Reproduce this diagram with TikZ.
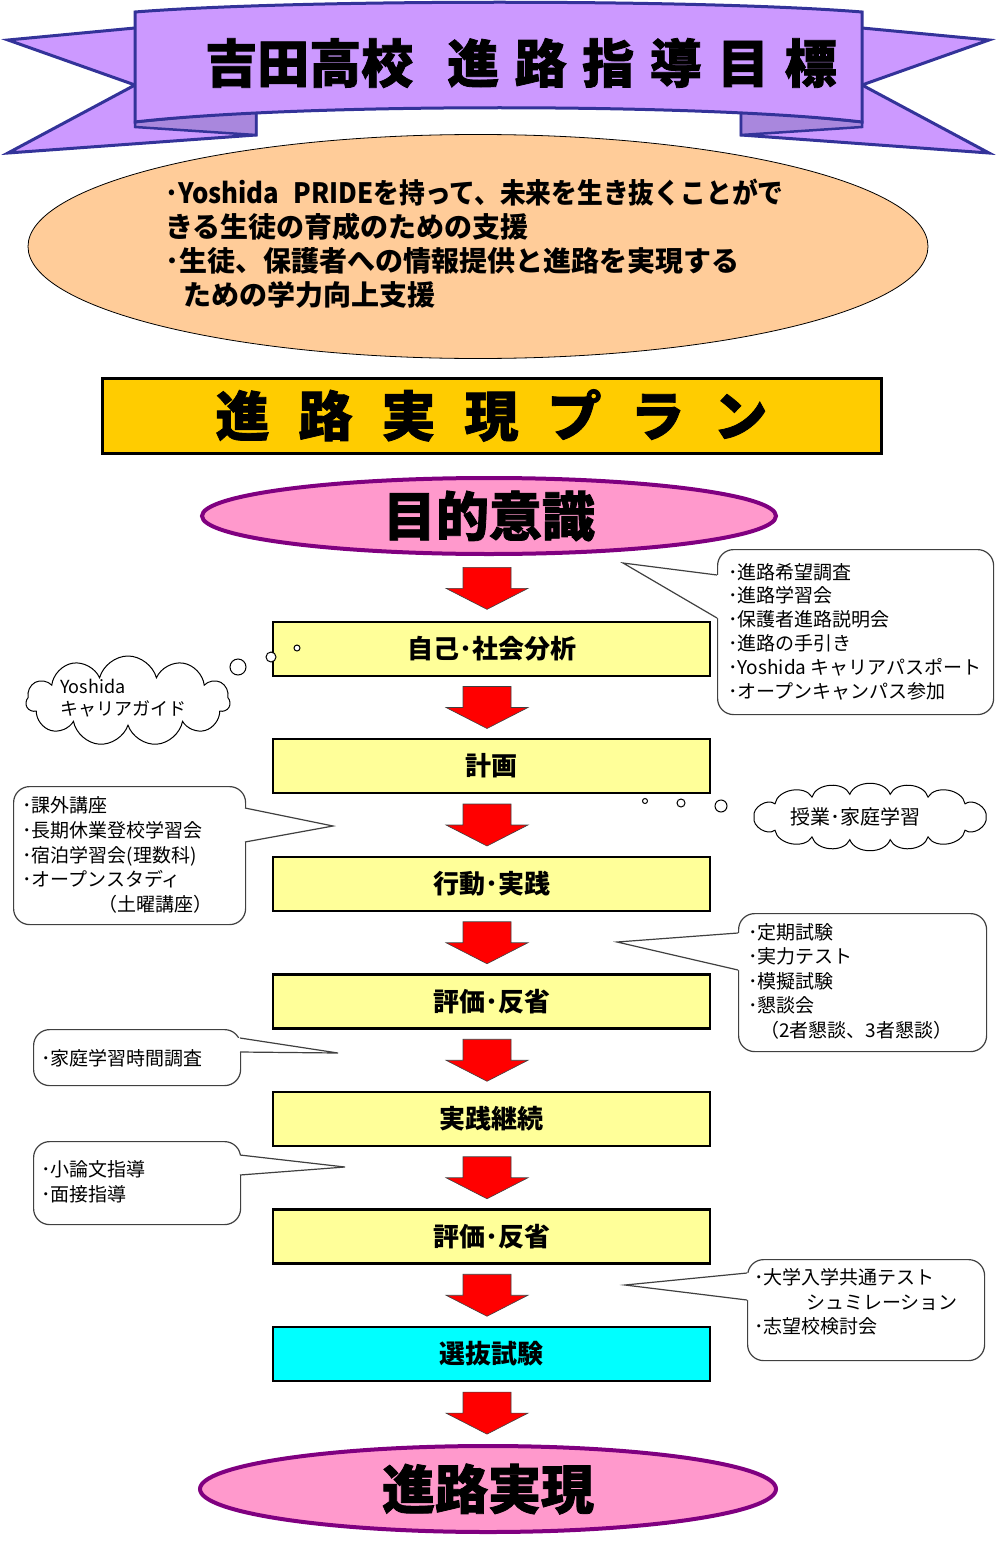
\documentclass[tikz,border=0pt]{standalone}
\usepackage{fontspec}
\usepackage{graphicx}
\setmainfont{Noto Sans CJK JP}
\newfontfamily\heavyfont{Noto Sans CJK JP}[BoldFeatures={FakeBold=1.5}]
\usetikzlibrary{shapes.geometric,shapes.symbols,calc}
\definecolor{ribbonfill}{HTML}{CC99FF}
\definecolor{ribbonline}{HTML}{333399}
\definecolor{foldfill}{HTML}{A987DD}
\definecolor{peach}{HTML}{FFCC99}
\definecolor{plangold}{HTML}{FFCC00}
\definecolor{pinkfill}{HTML}{FF99CC}
\definecolor{purpline}{HTML}{800080}
\definecolor{boxyellow}{HTML}{FFFF99}
\definecolor{boxcyan}{HTML}{00FFFF}
\definecolor{calloutgray}{HTML}{404040}
\newcommand\calloutptr[5]{%
  \fill[white] (#1,#2) -- (#4) -- (#1,#3) -- ({#1+#5},#3) -- ({#1+#5},#2) -- cycle;
  \draw[calloutline] (#1,#2) -- (#4) -- (#1,#3);
}
\begin{document}
\begin{tikzpicture}[x=1pt,y=-1pt,
  ribbon/.style={fill=ribbonfill,draw=ribbonline,line width=3pt,line join=miter},
  fold/.style={fill=foldfill,draw=ribbonline,line width=2.5pt},
  flowbox/.style={draw=black,line width=2.5pt,fill=boxyellow,minimum width=437pt,minimum height=54pt,inner sep=0pt,
     font=\bfseries\fontsize{26}{26}\selectfont},
  target/.style={ellipse,draw=purpline,line width=4pt,fill=pinkfill,inner sep=0pt,
     font=\heavyfont\bfseries\fontsize{53}{53}\selectfont},
  callout/.style={draw=calloutgray,line width=1.2pt,fill=white,rounded corners=16pt,inner sep=0pt,anchor=north west},
  calloutline/.style={draw=calloutgray,line width=1.2pt},
  ctext/.style={align=left,inner sep=0pt,anchor=west,font=\fontsize{19}{24.5}\selectfont},
  cloudstyle/.style={cloud,cloud puffs=11,cloud ignores aspect,draw=black,line width=1pt,fill=white,inner sep=0pt},
  cloudline/.style={draw=black,line width=1pt,fill=white},
  bubble/.style={circle,draw=black,line width=1pt,fill=white,inner sep=0pt},
  pics/redarrow/.style={code={
    \draw[fill=red,draw=black!75,line width=0.6pt,line join=miter]
      (-24,-21) -- (24,-21) -- (24,0) -- (41,0) -- (0,21) -- (-41,0) -- (-24,0) -- cycle;}}
]
\useasboundingbox (0,0) rectangle (1000,1552);

% ---------- ribbon ----------
\filldraw[ribbon] (135,28) -- (8,40) -- (135,85) -- (8,153) -- (256,135) -- (256,110) -- cycle;
\filldraw[ribbon] (862,28) -- (989,40) -- (862,85) -- (989,153) -- (741,135) -- (741,110) -- cycle;
\filldraw[fold] (135,122) -- (256,110) -- (256,135) -- (135,127) -- cycle;
\filldraw[fold] (862,122) -- (741,110) -- (741,135) -- (862,127) -- cycle;
\filldraw[ribbon] (135,12) .. controls (300,-1) and (700,-1) .. (862,12)
   -- (862,122) .. controls (700,103) and (300,103) .. (135,122) -- cycle;
\node[anchor=west,inner sep=0pt,font=\heavyfont\bfseries\fontsize{52}{52}\selectfont] (title) at (205,63)
  {吉田高校\hspace{34pt}進\hspace{15.5pt}路\hspace{15.5pt}指\hspace{15.5pt}導\hspace{15.5pt}目\hspace{15.5pt}標};

% ---------- aims ellipse ----------
\node[ellipse,draw=black,line width=0.8pt,fill=peach,minimum width=900pt,minimum height=224pt,inner sep=0pt] (aims) at (478,246.5) {};
\node[anchor=west,align=left,inner sep=0pt,font=\bfseries\fontsize{28}{34}\selectfont] (aimstext) at (165,244)
  {\scalebox{0.92}[1]{･Yoshida\hspace{16pt}PRIDEを持って、未来を生き抜くことがで}\\
   きる生徒の育成のための支援\\
   ･生徒、保護者への情報提供と進路を実現する\\
   \hspace*{18pt}ための学力向上支援};

% ---------- plan banner ----------
\node[draw=black,line width=3pt,fill=plangold,minimum width=779pt,minimum height=75pt,inner sep=0pt,
      font=\heavyfont\bfseries\fontsize{54}{54}\selectfont] (plan) at (491.5,415.5)
  {進\hspace{29pt}路\hspace{29pt}実\hspace{29pt}現\hspace{29pt}プ\hspace{29pt}ラ\hspace{29pt}ン};

% ---------- flow ----------
\node[target,minimum width=574pt,minimum height=76pt] (purpose) at (489,516) {目的意識};
\node[flowbox] (b1) at (491.5,649) {自己･社会分析};
\node[flowbox] (b2) at (491.5,766) {計画};
\node[flowbox] (b3) at (491.5,884) {行動･実践};
\node[flowbox] (b4) at (491.5,1001.5) {評価･反省};
\node[flowbox] (b5) at (491.5,1119) {実践継続};
\node[flowbox] (b6) at (491.5,1236.5) {評価･反省};
\node[flowbox,fill=boxcyan] (b7) at (491.5,1354) {選抜試験};
\node[target,minimum width=576pt,minimum height=86pt] (goal) at (488,1489) {進路実現};

\foreach \a/\b in {purpose/b1,b1/b2,b2/b3,b3/b4,b4/b5,b5/b6,b6/b7,b7/goal}{
  \coordinate (m) at ($(\a.south)!0.5!(\b.north)$);
  \pic at (487,0 |- m) {redarrow};
}

% ---------- callouts ----------
% A (top right)
\node[callout,minimum width=276pt,minimum height=165pt] (cA) at (717,549) {};
\coordinate (tipA) at (623,563);
\calloutptr{717}{575}{618}{tipA}{2}
\node[ctext,font=\fontsize{19}{23.8}\selectfont] (tA) at (728,631.5)
  {･進路希望調査\\･進路学習会\\･保護者進路説明会\\･進路の手引き\\･Yoshida キャリアパスポート\\･オープンキャンパス参加};

% D (left, 行動)
\node[callout,minimum width=232pt,minimum height=138pt] (cD) at (13,786) {};
\coordinate (tipD) at (333,826);
\calloutptr{245}{808}{842}{tipD}{-2}
\node[ctext,font=\fontsize{19}{24.8}\selectfont] (tD) at (22,855)
  {･課外講座\\･長期休業登校学習会\\･宿泊学習会(理数科)\\･オープンスタディ\\\hspace*{76pt}（土曜講座）};

% E (right, 評価)
\node[callout,minimum width=248pt,minimum height=138pt] (cE) at (738,913) {};
\coordinate (tipE) at (617,942);
\calloutptr{738}{933}{970}{tipE}{2}
\node[ctext] (tE) at (748,981)
  {･定期試験\\･実力テスト\\･模擬試験\\･懇談会\\\hspace*{12pt}（2者懇談、3者懇談）};

% F (left, 家庭学習)
\node[callout,minimum width=207pt,minimum height=56pt] (cF) at (33,1029) {};
\coordinate (tipF) at (338,1053);
\calloutptr{240}{1038}{1052}{tipF}{-2}
\node[ctext] (tF) at (41,1058) {･家庭学習時間調査};

% G (left, 小論文)
\node[callout,minimum width=207pt,minimum height=83pt] (cG) at (33,1141) {};
\coordinate (tipG) at (345,1167);
\calloutptr{240}{1155}{1175}{tipG}{-2}
\node[ctext] (tG) at (41,1182) {･小論文指導\\･面接指導};

% H (right, 共通テスト)
\node[callout,minimum width=237pt,minimum height=101pt] (cH) at (747,1259) {};
\coordinate (tipH) at (625,1285);
\calloutptr{747}{1273}{1300}{tipH}{2}
\node[ctext] (tH) at (754,1302)
  {･大学入学共通テスト\\\hspace*{52pt}シュミレーション\\･志望校検討会};

% ---------- clouds ----------
\node[cloudstyle,minimum width=204pt,minimum height=90pt] (cl1) at (128,701) {};
\node[align=left,inner sep=0pt,anchor=west,font=\fontsize{18}{22}\selectfont] (cl1text) at (60,698) {Yoshida\\キャリアガイド};
\node[bubble,minimum size=16pt] (t1a) at (238,667) {};
\node[bubble,minimum size=10pt] (t1b) at (271,657) {};
\node[bubble,minimum size=6pt] (t1c) at (297,648) {};

\coordinate (cl2c) at (870,817);
\filldraw[cloudline] ($(cl2c)+(0:116 and 23)$)
  \foreach \t in {35,60,80,100,120,145,180,215,240,260,280,300,325,360}{
    to[bend left=70] ($(cl2c)+(\t:116 and 23)$)} -- cycle;
\node[inner sep=0pt,font=\fontsize{20}{20}\selectfont] (cl2text) at (855,817) {授業･家庭学習};
\node[bubble,minimum size=5pt] (t2a) at (645,801) {};
\node[bubble,minimum size=8pt] (t2b) at (681,803) {};
\node[bubble,minimum size=12pt] (t2c) at (721,806) {};
\end{tikzpicture}
\end{document}
